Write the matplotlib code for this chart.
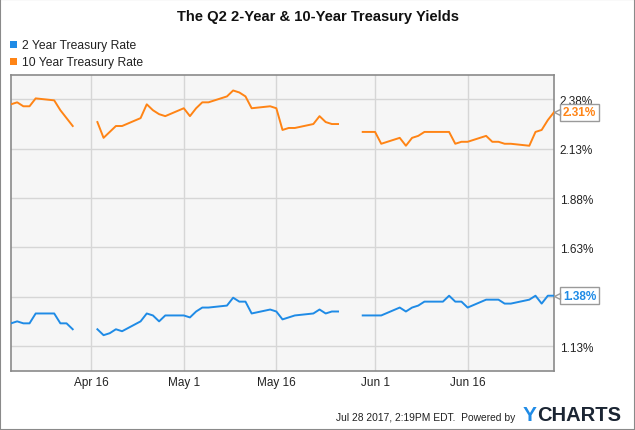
import numpy as np
import pandas as pd
import matplotlib
matplotlib.use("Agg")
import matplotlib.pyplot as plt
import matplotlib.dates as mdates
from matplotlib.patches import Rectangle
from matplotlib.text import Annotation
from matplotlib.transforms import blended_transform_factory, offset_copy

plt.rcParams['font.family'] = ['Liberation Sans', 'DejaVu Sans']

nan = np.nan
# business days Apr 3 - Jun 30, 2017 (holidays left empty)
dates = pd.bdate_range('2017-04-03', '2017-06-30')

rate_2y = [1.24, 1.25, 1.24, 1.24, 1.29,
           1.29, 1.24, 1.24, 1.21, nan,
           1.21, 1.18, 1.19, 1.21, 1.20,
           1.25, 1.29, 1.28, 1.25, 1.28,
           1.28, 1.27, 1.30, 1.32, 1.32,
           1.33, 1.37, 1.35, 1.35, 1.29,
           1.31, 1.30, 1.26, 1.27, 1.28,
           1.29, 1.31, 1.29, 1.30, 1.30,
           nan, 1.28, 1.28, 1.28, 1.28,
           1.32, 1.30, 1.32, 1.33, 1.35,
           1.35, 1.38, 1.35, 1.35, 1.32,
           1.36, 1.36, 1.36, 1.34, 1.34,
           1.36, 1.38, 1.34, 1.38, 1.38]

rate_10y = [2.35, 2.36, 2.34, 2.34, 2.38,
            2.37, 2.32, 2.28, 2.24, nan,
            2.26, 2.18, 2.21, 2.24, 2.24,
            2.28, 2.35, 2.32, 2.30, 2.29,
            2.33, 2.29, 2.33, 2.36, 2.36,
            2.39, 2.42, 2.41, 2.39, 2.33,
            2.34, 2.33, 2.22, 2.23, 2.23,
            2.25, 2.29, 2.26, 2.25, 2.25,
            nan, 2.21, 2.21, 2.21, 2.15,
            2.18, 2.14, 2.18, 2.19, 2.21,
            2.21, 2.21, 2.15, 2.16, 2.16,
            2.19, 2.16, 2.16, 2.15, 2.15,
            2.14, 2.21, 2.22, 2.27, 2.31]

series_names = ['2 Year Treasury Rate', '10 Year Treasury Rate']
series_colors = ['#1f8be6', '#ff8415']

y_ticks = [1.125, 1.375, 1.625, 1.875, 2.125, 2.375]
y_tick_labels = ['1.13%', '1.38%', '1.63%', '1.88%', '2.13%', '2.38%']
x_ticks = ['2017-04-16', '2017-05-01', '2017-05-16', '2017-06-01', '2017-06-16']
x_tick_labels = ['Apr 16', 'May 1', 'May 16', 'Jun 1', 'Jun 16']

title = 'The Q2 2-Year & 10-Year Treasury Yields'
footer = 'Jul 28 2017, 2:19PM EDT.  Powered by'

W, H = 635, 431
fig = plt.figure(figsize=(W / 100, H / 100), dpi=100)
fig.patch.set_facecolor('white')

L, R, T, B = 10.7, 554.0, 75.7, 371.7
ax = fig.add_axes([L / W, 1 - B / H, (R - L) / W, (B - T) / H])
ax.set_facecolor('#f6f6f6')

all_series = [rate_2y, rate_10y]
for vals, c in zip(all_series, series_colors):
    ax.plot(dates, vals, color=c, lw=1.4, zorder=3)

ax.set_xlim(mdates.date2num(dates[0]) - 0.05, mdates.date2num(dates[-1]))
ax.set_ylim(1.0, 2.5)

ax.yaxis.tick_right()
ax.set_yticks(y_ticks)
ax.set_yticklabels(y_tick_labels)
ax.set_xticks([mdates.date2num(pd.Timestamp(d)) for d in x_ticks])
ax.set_xticklabels(x_tick_labels)
ax.tick_params(axis='both', length=0, labelsize=8.5, labelcolor='#222222')
ax.tick_params(axis='y', pad=4)
ax.tick_params(axis='x', pad=3.5)

ax.grid(True, color='#d6d6d6', lw=1)
ax.set_axisbelow(True)
for s in ax.spines.values():
    s.set_color('#8a8a8a')
    s.set_linewidth(1.2)

# end-value labels
trans = blended_transform_factory(ax.transAxes, ax.transData)
for vals, c in zip(all_series, series_colors):
    v = vals[-1]
    ax.annotate(f'{v:.2f}%', xy=(1, v), xycoords=trans, xytext=(6.5, 0),
                textcoords='offset points', ha='left', va='center',
                color=c, fontweight='bold', fontsize=8.5, zorder=6,
                annotation_clip=False,
                bbox=dict(boxstyle='square,pad=0.22', fc='white',
                          ec='#9a9a9a', lw=1))
    ax.plot([1], [v], marker='<', ms=5, mfc='white', mec='#9a9a9a', mew=1,
            transform=offset_copy(trans, fig=fig, x=3.0, y=0, units='dots'),
            clip_on=False, zorder=7)

# legend
for i, (name, c) in enumerate(zip(series_names, series_colors)):
    yc = 45.5 + 17 * i
    fig.add_artist(Rectangle((10 / W, 1 - (yc + 3.5) / H), 7 / W, 7 / H,
                             transform=fig.transFigure, color=c, lw=0))
    fig.text(22 / W, 1 - (yc + 0.5) / H, name, ha='left', va='center',
             fontsize=8.7, color='#222222')

# title
fig.text(318 / W, 1 - 17.5 / H, title, ha='center', va='center',
         fontsize=10.6, fontweight='bold', color='#111111')

# footer
fig.text(335.5 / W, 1 - 418 / H, footer, ha='left', va='center',
         fontsize=7.4, color='#222222')
ty = fig.text(523 / W, 1 - 416 / H, 'Y', ha='left', va='center',
              fontsize=15, fontweight='bold', color='#1f8be6')
fig.add_artist(Annotation('CHARTS', xy=(1, 0), xycoords=ty, ha='left',
                          va='bottom', fontsize=14.5, fontweight='bold',
                          color='#1b2533'))

# outer frame
fig.add_artist(Rectangle((0, 0), 1, 1, transform=fig.transFigure, fill=False,
                         ec='#8a8a8a', lw=1.5))

fig.savefig('out.png', dpi=100)
